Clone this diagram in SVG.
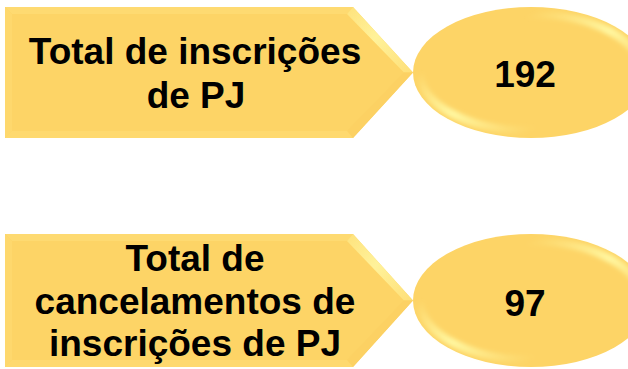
<svg xmlns="http://www.w3.org/2000/svg" width="628" height="369" viewBox="0 0 628 369">
<defs>
<style>
.body{fill:#FDD466}
.ft{fill:#FEDA71}
.fl{fill:#FED86D}
.fb{fill:#FED96F}
.fd{fill:#FCD163}
.ell{fill:#FDD466}
.ring{fill:none;stroke:url(#ringG);stroke-width:8;filter:url(#soft)}
.lbl{font-family:"Liberation Sans",Arial,sans-serif;font-weight:bold;font-size:37px;fill:#000;text-anchor:middle}
</style>
<linearGradient id="diagG" x1="0" y1="0" x2="1" y2="1">
<stop offset="0" stop-color="#FEE27C"/>
<stop offset="0.45" stop-color="#FFF29A"/>
<stop offset="1" stop-color="#FEDF78"/>
</linearGradient>
<linearGradient id="ringG" x1="0" y1="0" x2="1" y2="1">
<stop offset="0" stop-color="#FFF7A0" stop-opacity="0"/>
<stop offset="0.25" stop-color="#FFF7A0" stop-opacity="0"/>
<stop offset="0.5" stop-color="#FFF7A0" stop-opacity="1"/>
<stop offset="0.75" stop-color="#FFF7A0" stop-opacity="0"/>
<stop offset="1" stop-color="#FFF7A0" stop-opacity="0"/>
</linearGradient>
<filter id="soft" x="-10%" y="-10%" width="120%" height="120%">
<feGaussianBlur stdDeviation="2"/>
</filter>
</defs>
<rect width="628" height="369" fill="#FFFFFF"/>

<g id="label1">
<polygon class="body" points="5,7 353,7 413,72.5 353,138 5,138"/>
<polygon class="ft" points="5,7 353,7 347,14 12,14"/>
<polygon class="fl" points="5,7 12,14 12,131 5,138"/>
<polygon fill="url(#diagG)" points="353,7 413,72.5 404,72.5 347,14"/>
<polygon class="fd" points="413,72.5 353,138 347,131 404,72.5"/>
<polygon class="fb" points="5,138 353,138 347,131 12,131"/>
<text class="lbl" x="195" y="64">Total de inscrições</text>
<text class="lbl" x="196" y="108">de PJ</text>
</g>

<g id="value1">
<ellipse class="ell" cx="531" cy="72.5" rx="118" ry="65.5"/>
<ellipse class="ring" cx="531" cy="72.5" rx="111" ry="58.5"/>
<text class="lbl" x="525" y="87">192</text>
</g>

<g id="label2">
<polygon class="body" points="5,234 353,234 413,300.5 353,367 5,367"/>
<polygon class="ft" points="5,234 353,234 347,241 12,241"/>
<polygon class="fl" points="5,234 12,241 12,360 5,367"/>
<polygon fill="url(#diagG)" points="353,234 413,300.5 404,300.5 347,241"/>
<polygon class="fd" points="413,300.5 353,367 347,360 404,300.5"/>
<polygon class="fb" points="5,367 353,367 347,360 12,360"/>
<text class="lbl" x="195" y="271">Total de</text>
<text class="lbl" x="195" y="313.5">cancelamentos de</text>
<text class="lbl" x="195" y="356">inscrições de PJ</text>
</g>

<g id="value2">
<ellipse class="ell" cx="531" cy="300.5" rx="118" ry="66.5"/>
<ellipse class="ring" cx="531" cy="300.5" rx="111" ry="59.5"/>
<text class="lbl" x="525" y="316">97</text>
</g>
</svg>
